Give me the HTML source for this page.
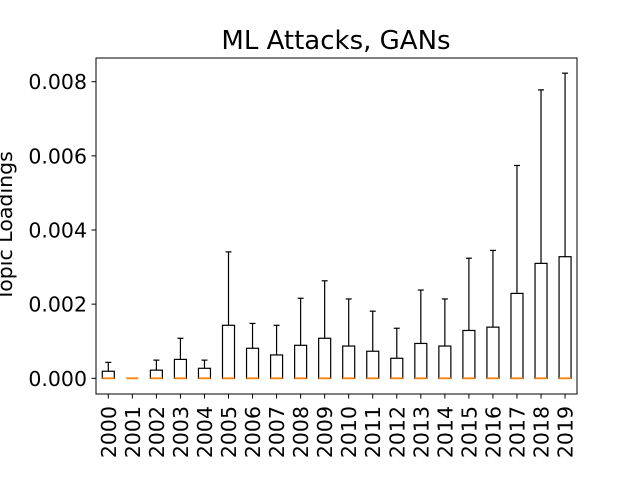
<!DOCTYPE html>
<html><head><meta charset="utf-8"><style>
html,body{margin:0;padding:0;background:#fff;}
svg{display:block;font-family:"DejaVu Sans","Liberation Sans",sans-serif;}
</style></head><body>
<svg id="chart" width="640" height="480">
<rect width="640" height="480" fill="#fff"/>
<text x="336" y="49" text-anchor="middle" font-size="26">ML Attacks, GANs</text>
<text transform="translate(12,226) rotate(-90)" text-anchor="middle" font-size="20.5">Topic Loadings</text>
<g id="plot"></g>
<rect x="96" y="58" width="481" height="336" fill="none" stroke="#000" stroke-width="1"/>
</svg>
<script>
const years = ["2000","2001","2002","2003","2004","2005","2006","2007","2008","2009","2010","2011","2012","2013","2014","2015","2016","2017","2018","2019"];
const q3 = [0.00019,0,0.00022,0.00051,0.00027,0.00143,0.00081,0.00063,0.00089,0.00108,0.00087,0.00073,0.00054,0.00094,0.00087,0.00129,0.00138,0.00229,0.00310,0.00328];
const whiskerHigh = [0.00043,0,0.00049,0.00108,0.00049,0.00341,0.00148,0.00143,0.00216,0.00263,0.00214,0.00181,0.00135,0.00238,0.00214,0.00324,0.00345,0.00574,0.00778,0.00823];
const medians = [0,0,0,0,0,0,0,0,0,0,0,0,0,0,0,0,0,0,0,0];
const q1 = [0,0,0,0,0,0,0,0,0,0,0,0,0,0,0,0,0,0,0,0];
const yTicks = [0,0.002,0.004,0.006,0.008];
const yTickLabels = ["0.000","0.002","0.004","0.006","0.008"];

const NS="http://www.w3.org/2000/svg";
const g=document.getElementById('plot');
function y(v){return 378.3-v/0.002*74.15;}
function x(i){return 108.3+i*24.04;}
function mk(tag,attrs){const e=document.createElementNS(NS,tag);for(const k in attrs)e.setAttribute(k,attrs[k]);g.appendChild(e);return e;}
yTicks.forEach((t,i)=>{
  const l=mk('line',{x1:91.5,x2:96,y1:y(t),y2:y(t),stroke:'#000'});
  
  
  const tx=mk('text',{x:87,y:y(t)+7.5,'text-anchor':'end','font-size':20.5});
  tx.textContent=yTickLabels[i];
  
  
});
years.forEach((yr,i)=>{
  const cx=x(i);
  const tk=mk('line',{x1:cx,x2:cx,y1:394,y2:398.5,stroke:'#000'});
  
  
  const tx=mk('text',{transform:`translate(${cx+7.5},406) rotate(-90)`,'text-anchor':'end','font-size':20.5});
  tx.textContent=yr;
  
  
  const w=mk('line',{x1:cx,x2:cx,y1:y(q3[i]),y2:y(whiskerHigh[i]),stroke:'#000','stroke-width':1.2});
  
  
  const cap=mk('line',{x1:cx-3,x2:cx+3,y1:y(whiskerHigh[i]),y2:y(whiskerHigh[i]),stroke:'#000','stroke-width':1.2});
  
  
  const top=y(q3[i]),bot=y(q1[i]);
  const b=mk('rect',{x:cx-6,y:top,width:12,height:Math.max(bot-top,0),fill:'none',stroke:'#000','stroke-width':1.2});
  
  
  const m=mk('line',{x1:cx-6,x2:cx+6,y1:y(medians[i]),y2:y(medians[i]),stroke:'#ff7f0e','stroke-width':1.8});
  
  
});
</script>
</body></html>
